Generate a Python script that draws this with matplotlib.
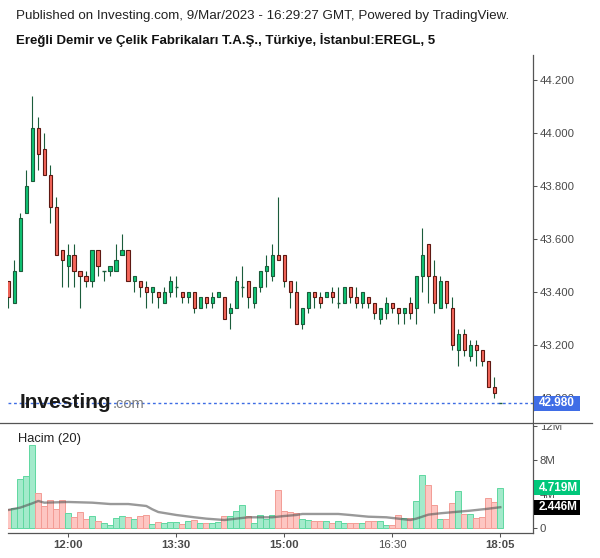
import numpy as np
import matplotlib.pyplot as plt
from matplotlib.patches import Rectangle
from matplotlib.lines import Line2D

plt.rcParams['font.family'] = ['Liberation Sans', 'DejaVu Sans']

# ======================== Data (5 min bars) =============================
opens = [43.44, 43.36, 43.48, 43.70, 43.82, 44.02, 43.94, 43.84, 43.72, 43.56,
         43.50, 43.54, 43.48, 43.46, 43.44, 43.56, 43.48, 43.48, 43.48, 43.54,
         43.56, 43.44, 43.44, 43.42, 43.40, 43.40, 43.36, 43.40, 43.42, 43.40,
         43.38, 43.40, 43.34, 43.38, 43.36, 43.38, 43.38, 43.32, 43.34, 43.42,
         43.44, 43.36, 43.42, 43.48, 43.46, 43.54, 43.54, 43.44, 43.40, 43.28,
         43.34, 43.40, 43.38, 43.38, 43.40, 43.36, 43.36, 43.42, 43.38, 43.36,
         43.38, 43.36, 43.30, 43.32, 43.36, 43.34, 43.32, 43.36, 43.34, 43.46,
         43.58, 43.46, 43.34, 43.44, 43.34, 43.18, 43.24, 43.16, 43.20, 43.18,
         43.14, 43.04, 42.98]
highs = [43.44, 43.52, 43.70, 43.86, 44.14, 44.06, 44.00, 43.88, 43.76, 43.56,
         43.58, 43.58, 43.48, 43.48, 43.56, 43.56, 43.48, 43.50, 43.58, 43.62,
         43.56, 43.46, 43.44, 43.44, 43.42, 43.40, 43.42, 43.46, 43.46, 43.40,
         43.40, 43.40, 43.38, 43.38, 43.40, 43.40, 43.38, 43.36, 43.46, 43.50,
         43.44, 43.42, 43.48, 43.54, 43.58, 43.76, 43.54, 43.44, 43.44, 43.34,
         43.40, 43.40, 43.40, 43.40, 43.42, 43.42, 43.42, 43.42, 43.42, 43.40,
         43.38, 43.36, 43.34, 43.38, 43.36, 43.34, 43.34, 43.38, 43.46, 43.64,
         43.58, 43.52, 43.46, 43.44, 43.38, 43.26, 43.26, 43.22, 43.22, 43.18,
         43.14, 43.08, 42.98]
lows = [43.34, 43.36, 43.48, 43.70, 43.82, 43.86, 43.84, 43.66, 43.54, 43.42,
        43.42, 43.42, 43.34, 43.42, 43.42, 43.46, 43.44, 43.46, 43.48, 43.54,
        43.44, 43.40, 43.38, 43.34, 43.36, 43.34, 43.36, 43.38, 43.38, 43.36,
        43.36, 43.32, 43.34, 43.34, 43.34, 43.38, 43.30, 43.26, 43.34, 43.38,
        43.34, 43.34, 43.40, 43.42, 43.44, 43.52, 43.42, 43.34, 43.28, 43.26,
        43.32, 43.34, 43.34, 43.38, 43.36, 43.34, 43.36, 43.36, 43.34, 43.34,
        43.34, 43.30, 43.28, 43.30, 43.32, 43.28, 43.28, 43.30, 43.28, 43.40,
        43.36, 43.32, 43.34, 43.34, 43.18, 43.12, 43.16, 43.14, 43.12, 43.12,
        43.04, 43.00, 42.98]
closes = [43.38, 43.48, 43.68, 43.80, 44.02, 43.92, 43.84, 43.72, 43.54, 43.52,
          43.54, 43.48, 43.46, 43.44, 43.56, 43.50, 43.48, 43.50, 43.52, 43.56,
          43.44, 43.46, 43.42, 43.40, 43.42, 43.38, 43.40, 43.44, 43.42, 43.38,
          43.40, 43.34, 43.38, 43.36, 43.38, 43.40, 43.30, 43.34, 43.44, 43.42,
          43.38, 43.42, 43.48, 43.50, 43.54, 43.52, 43.44, 43.40, 43.28, 43.34,
          43.40, 43.38, 43.36, 43.40, 43.38, 43.36, 43.42, 43.38, 43.36, 43.40,
          43.36, 43.32, 43.34, 43.36, 43.34, 43.32, 43.34, 43.32, 43.46, 43.54,
          43.46, 43.36, 43.44, 43.36, 43.20, 43.24, 43.18, 43.20, 43.18, 43.14,
          43.04, 43.02, 42.98]
# volume in millions
volumes = [2.20, 2.31, 5.72, 6.12, 9.76, 4.08, 2.63, 3.25, 2.20, 3.25,
           1.73, 1.26, 1.88, 1.02, 1.45, 0.82, 0.55, 0.31, 1.14, 1.45,
           1.33, 1.02, 1.37, 1.57, 0.43, 0.67, 0.55, 0.67, 0.67, 0.43,
           0.82, 0.98, 0.55, 0.55, 0.55, 0.71, 1.45, 1.45, 2.00, 2.67,
           1.37, 0.55, 1.53, 1.10, 1.53, 4.43, 2.00, 1.88, 1.73, 1.06,
           0.94, 0.86, 0.82, 0.82, 0.59, 0.82, 0.59, 0.59, 0.59, 0.59,
           0.82, 0.82, 0.82, 0.35, 0.35, 1.49, 1.22, 1.18, 3.18, 6.24,
           5.02, 2.67, 1.06, 1.06, 2.94, 4.35, 1.61, 1.61, 1.14, 1.29,
           3.53, 3.10, 4.719]
# volume moving average (20), read at a few bars
ma_idx = [0, 2, 4, 5, 6, 10, 14, 17, 20, 23, 24, 25, 28, 31, 33, 36, 38, 40,
          44, 46, 48, 49, 52, 55, 57, 60, 63, 65, 67, 68, 70, 72, 75, 77, 80, 82]
ma_vals = [2.12, 2.40, 2.90, 3.18, 2.98, 3.06, 2.98, 2.82, 2.82, 2.59, 2.20, 1.88,
           1.53, 1.26, 1.10, 0.94, 1.10, 1.26, 1.26, 1.41, 1.53, 1.65, 1.65, 1.65,
           1.53, 1.33, 1.26, 1.10, 0.94, 1.10, 1.57, 1.73, 1.92, 2.04, 2.27, 2.446]

time_idx = [10, 28, 46, 64, 82]
time_labels = ['12:00', '13:30', '15:00', '16:30', '18:05']
time_bold = [True, True, True, False, True]
price_ticks = [43.0, 43.2, 43.4, 43.6, 43.8, 44.0, 44.2]
vol_ticks = [0, 4, 8, 12]
vol_tick_labels = ['0', '4M', '8M', '12M']

# ======================== Colours =============================
up_body, up_edge = '#0fc474', '#1b5c3b'
dn_body, dn_edge = '#f6675b', '#5e1812'
wick = '#1b5c3b'
vol_up, vol_up_edge = '#a3eacb', '#5fd8a0'
vol_dn, vol_dn_edge = '#fdc6c2', '#f39c95'
axis_col = '#555555'
txt_col = '#4a4a4a'

# ======================== Figure and Axes ==========================
W, H = 600, 558
fig = plt.figure(figsize=(W/100, H/100), dpi=100, facecolor='white')

def fx(px):
    return px / W

def fy(py):
    return 1 - py / H

ax = fig.add_axes([fx(8), fy(423), fx(533) - fx(8), fy(55) - fy(423)])
axv = fig.add_axes([fx(8), fy(533), fx(533) - fx(8), fy(423) - fy(533)])

n = len(closes)
xs = np.arange(n)
xlim = (-0.05, 87.45)

# >>>>> candles
bw = 0.6
for i in range(n):
    o, h, l, c = opens[i], highs[i], lows[i], closes[i]
    up = c >= o
    ax.vlines(i, l, h, color=wick, lw=0.8, zorder=2)
    if abs(c - o) < 1e-9:
        ax.hlines(o, i - bw/2, i + bw/2, color=wick, lw=1.0, zorder=3)
    else:
        ax.add_patch(Rectangle((i - bw/2, min(o, c)), bw, abs(c - o),
                               facecolor=up_body if up else dn_body,
                               edgecolor=up_edge if up else dn_edge,
                               lw=0.8, zorder=3))

ax.axhline(closes[-1], color='#3d6ce4', lw=1.0, ls=(0, (2, 2)), zorder=1)
ax.set_xlim(*xlim)
ax.set_ylim(44.2 - (423 - 80) / 265, 44.2 + (80 - 55) / 265)
ax.yaxis.tick_right()
ax.set_yticks(price_ticks)
ax.set_yticklabels([f'{p:.3f}' for p in price_ticks])
ax.set_xticks([])
for s in ['left', 'top', 'bottom']:
    ax.spines[s].set_visible(False)
ax.spines['right'].set_color(axis_col)
ax.spines['right'].set_linewidth(0.9)
ax.tick_params(axis='y', length=3, width=0.75, colors=axis_col, pad=2,
               labelsize=8.2, labelcolor=txt_col)

# >>>>> volume
vcols = [vol_up if closes[i] >= opens[i] else vol_dn for i in range(n)]
vedges = [vol_up_edge if closes[i] >= opens[i] else vol_dn_edge for i in range(n)]
axv.bar(xs, volumes, width=1.0, color=vcols, edgecolor=vedges, lw=0.7, zorder=2)
axv.plot(ma_idx, ma_vals, color='#555555', alpha=0.6, lw=1.7, zorder=3)
axv.set_xlim(*xlim)
axv.set_ylim(-5 / 8.5, 105 / 8.5)
axv.yaxis.tick_right()
axv.set_yticks(vol_ticks)
axv.set_yticklabels(vol_tick_labels)
axv.set_xticks(time_idx)
axv.set_xticklabels(time_labels)
for lab, b in zip(axv.get_xticklabels(), time_bold):
    lab.set_fontweight('bold' if b else 'normal')
for s in ['left', 'top']:
    axv.spines[s].set_visible(False)
for s in ['right', 'bottom']:
    axv.spines[s].set_color(axis_col)
    axv.spines[s].set_linewidth(0.9)
axv.tick_params(axis='both', length=3, width=0.75, colors=axis_col, pad=2,
                labelsize=8.2, labelcolor=txt_col)
axv.text(10 / 525, 1 - 16 / 110, 'Hacim (20)', transform=axv.transAxes,
         fontsize=9.3, color='#222222', va='center', ha='left')

# ======================== Overlays =============================
# hide top of 12M label, separator line
fig.add_artist(Rectangle((fx(534), fy(425)), fx(600) - fx(534), 13 / H,
                         transform=fig.transFigure, fc='white', ec='none', zorder=4))
fig.add_artist(Line2D([0, fx(592)], [fy(423), fy(423)], transform=fig.transFigure,
                      color=axis_col, lw=0.9, zorder=7))

def value_tag(axis, value, text, color):
    y = axis.transData.transform((0, value))[1] / H
    fig.add_artist(Rectangle((fx(534), y - 7.5 / H), 46 / W, 15 / H,
                             transform=fig.transFigure, fc=color, ec='none', zorder=5))
    fig.text(fx(539), y, text, color='white', fontsize=8.5, fontweight='bold',
             va='center', ha='left', zorder=6)

value_tag(ax, closes[-1], f'{closes[-1]:.3f}', '#3f6de6')
value_tag(axv, volumes[-1], f'{volumes[-1]:.3f}M', '#00c77a')
value_tag(axv, ma_vals[-1], f'{ma_vals[-1]:.3f}M', '#000000')

# ======================== Header and logo =============================
fig.text(fx(16), fy(16), 'Published on Investing.com, 9/Mar/2023 - 16:29:27 GMT, Powered by TradingView.',
         fontsize=9.6, color='#222222', va='center', ha='left')
fig.text(fx(16), fy(40), 'Ereğli Demir ve Çelik Fabrikaları T.A.Ş., Türkiye, İstanbul:EREGL, 5',
         fontsize=9.5, fontweight='bold', color='#111111', va='center', ha='left')
fig.text(fx(20), fy(408), 'Investing', fontsize=15, fontweight='bold', color='#1a1a1a',
         va='baseline', ha='left', zorder=6)
fig.text(fx(113), fy(408), '.com', fontsize=10.5, color='#7d7d7d',
         va='baseline', ha='left', zorder=6)

fig.savefig('out.png', dpi=100)
